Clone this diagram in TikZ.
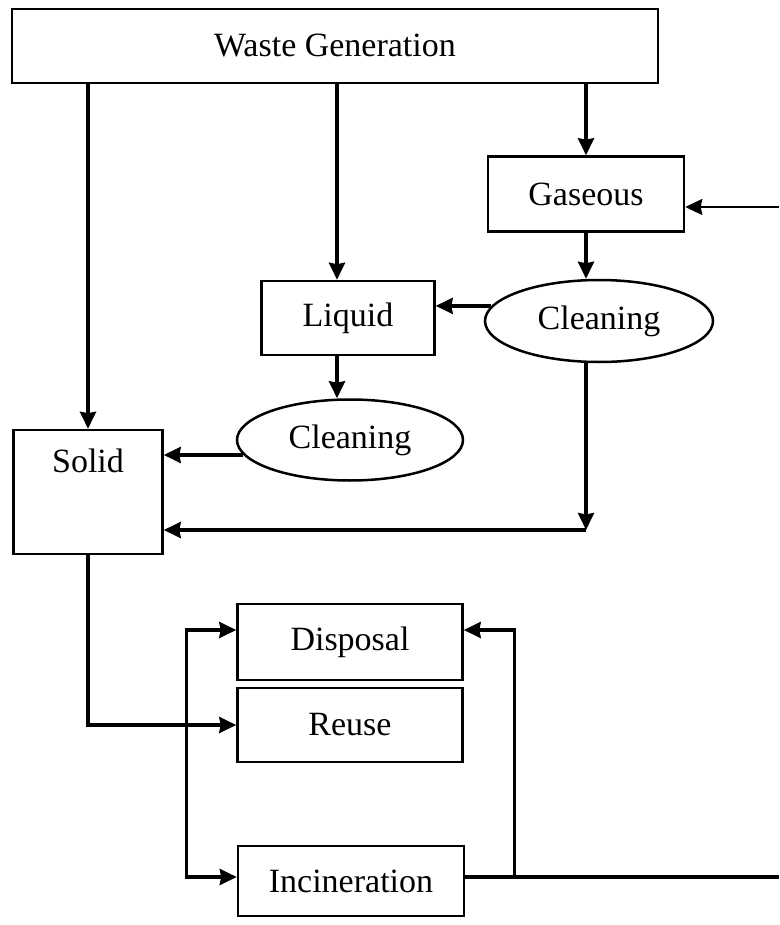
\documentclass[tikz,border=0pt]{standalone}
\usepackage{fontspec}
\setmainfont{Liberation Serif}
\usepackage{tikz}
\usetikzlibrary{shapes.geometric, arrows.meta, calc}
\tikzset{
  >={Stealth[length=17pt, width=16pt, inset=1.5pt]},
  wire/.style ={line width=3.4pt},
  thinwire/.style={line width=2pt},
  trunk/.style={line width=4.2pt},
  block/.style={rectangle, draw, line width=2.5pt, inner sep=0pt},
  clean/.style={ellipse, draw, line width=2.5pt, inner sep=0pt},
}

\begin{document}
\begin{tikzpicture}[x=1pt, y=-1pt, font=\fontsize{34}{39}\selectfont]
  \useasboundingbox (0,0) rectangle (779,925);
  % --- sources ------------------------------------------------------------
  \node[block, minimum width=646pt, minimum height=74pt] (wg)  at (335,46)  {Waste Generation};
  \node[block, minimum width=196pt, minimum height=75pt] (gas) at (586,194) {Gaseous};
  \node[clean, minimum width=228pt, minimum height=82pt] (cl1) at (599,321) {Cleaning};
  \node[block, minimum width=173pt, minimum height=74pt] (liq) at (348,318) {Liquid};
  \node[clean, minimum width=226pt, minimum height=81pt] (cl2) at (350,440) {Cleaning};
  \node[block, minimum width=149pt, minimum height=124pt] (sol) at (88,492) {};
  \node (soltxt) at ($(sol.north)+(0,32)$) {Solid};
  % --- end of line ----------------------------------------------------------
  \node[block, minimum width=225pt, minimum height=76pt] (disp)  at (350,642) {Disposal};
  \node[block, minimum width=225pt, minimum height=74pt] (reuse) at (350,725) {Reuse};
  \node[block, minimum width=226pt, minimum height=70pt] (inc)   at (351,881) {Incineration};

  \coordinate (lq)   at ($(liq.north)+(-11,0)$);
  \coordinate (ls)   at ($(liq.south)+(-11,0)$);
  \coordinate (feed) at (779,207);
  \coordinate (jn)   at ($(gas.south |- sol.east)+(0,38)$);
  \coordinate (dw)   at ($(disp.west)+(0,-12)$);
  \coordinate (de)   at ($(disp.east)+(0,-12)$);
  \coordinate (iw)   at ($(inc.west)+(0,-4)$);
  \coordinate (ie)   at ($(inc.east)+(0,-4)$);
  \coordinate (out)  at (ie -| feed);

  \draw[wire,->] (wg.south -| sol.north) -- (sol.north);
  \draw[wire,->] (wg.south -| lq) -- (lq);
  \draw[wire,->] (wg.south -| gas.north) -- (gas.north);
  \draw[thinwire,->] (feed) -- (feed -| gas.east);
  \draw[wire,->] (gas.south) -- (gas.south |- cl1.north);
  \draw[wire,->] (cl1.172) -- (cl1.172 -| liq.east);
  \draw[wire,->] (ls) -- (ls |- cl2.north);
  \draw[wire,->] (cl2.188) -- (cl2.188 -| sol.east);
  \draw[wire,->] (gas.south |- cl1.south) -- (jn);   % cleaned gas down to the solids line
  \draw[wire,->] (jn) -- (jn -| sol.east);
  \draw[wire,->] (sol.south) |- (reuse.west);
  \draw[wire,<->] (dw) -- ++(-50,0) |- (iw);
  \draw[trunk] (ie) -- (out);
  \draw[wire,->] ($(ie)+(49,0)$) |- (de);           % incineration residue back to disposal
\end{tikzpicture}
\end{document}
